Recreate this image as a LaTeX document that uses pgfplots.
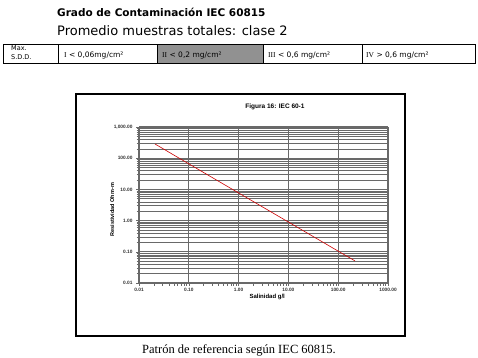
\documentclass[border=0pt]{standalone}
\usepackage{pgfplots}
\pgfplotsset{compat=1.18}
\usepackage{fontspec}
\setmainfont{Liberation Sans}
\newfontfamily\serif{Liberation Serif}
\newfontfamily\tah{DejaVu Sans}
\definecolor{gridg}{RGB}{105,105,105}
\definecolor{cellg}{RGB}{145,145,145}
\definecolor{linered}{RGB}{205,0,0}
\begin{document}
\begin{tikzpicture}
\begin{scope}[x=1pt,y=1pt]
\path[use as bounding box] (0,0) rectangle (478,357);
% header
\node[anchor=base west,inner sep=0pt,font=\fontsize{10.5}{13}\selectfont\tah\bfseries] at (57,340) {Grado de Contaminación IEC 60815};
\node[anchor=base west,inner sep=0pt,font=\fontsize{13}{16}\selectfont\tah] at (57,322) {Promedio muestras totales: clase 2};
% table
\fill[cellg] (157,294) rectangle (263,313);
\draw[line width=0.8pt] (3,294) rectangle (475,313);
\foreach \xx in {58,157,263,362} \draw[line width=0.8pt] (\xx,294) -- (\xx,313);
\node[anchor=base west,inner sep=0pt,font=\fontsize{6.5}{7}\selectfont\tah] at (11,306) {Max.};
\node[anchor=base west,inner sep=0pt,font=\fontsize{6.5}{7}\selectfont\tah] at (11,297.5) {S.D.D.};
\node[anchor=base west,inner sep=0pt,font=\fontsize{7.5}{9}\selectfont\tah] at (64,300) {{\serif I} < 0,06mg/cm²};
\node[anchor=base west,inner sep=0pt,font=\fontsize{7.5}{9}\selectfont\tah] at (162,300) {{\serif II} < 0,2 mg/cm²};
\node[anchor=base west,inner sep=0pt,font=\fontsize{7.5}{9}\selectfont\tah] at (268,300) {{\serif III} < 0,6 mg/cm²};
\node[anchor=base west,inner sep=0pt,font=\fontsize{7.5}{9}\selectfont\tah] at (366,300) {{\serif IV} > 0,6 mg/cm²};
% frame
\draw[line width=2pt] (76,21) rectangle (405,263);
% caption
\node[anchor=base,inner sep=0pt,font=\fontsize{12.5}{14}\selectfont\serif] at (239,4) {Patrón de referencia según IEC 60815.};
\end{scope}
\begin{axis}[
  at={(139pt,74pt)}, anchor=south west,
  width=249pt, height=156pt, scale only axis,
  xmode=log, ymode=log,
  xmin=0.01, xmax=1000, ymin=0.01, ymax=1000,
  xtick={0.01,0.1,1,10,100,1000},
  xticklabels={0.01,0.10,1.00,10.00,100.00,1000.00},
  ytick={0.01,0.1,1,10,100,1000},
  yticklabels={0.01,0.10,1.00,10.00,100.00,{1,000.00}},
  minor xtick={0.02,0.03,0.04,0.05,0.06,0.07,0.08,0.09,0.2,0.3,0.4,0.5,0.6,0.7,0.8,0.9,2,3,4,5,6,7,8,9,20,30,40,50,60,70,80,90,200,300,400,500,600,700,800,900},
  minor ytick={0.02,0.03,0.04,0.05,0.06,0.07,0.08,0.09,0.2,0.3,0.4,0.5,0.6,0.7,0.8,0.9,2,3,4,5,6,7,8,9,20,30,40,50,60,70,80,90,200,300,400,500,600,700,800,900},
  xmajorgrids, ymajorgrids, yminorgrids,
  major grid style={gridg,line width=1.1pt},
  minor grid style={gridg,line width=0.6pt},
  axis line style={gridg,line width=1pt},
  tick style={gridg,line width=0.6pt},
  major tick length=3pt, minor tick length=2.5pt,
  tick align=outside,
  xtick pos=bottom, ytick pos=left,
  ticklabel style={font=\fontsize{4.8}{5}\selectfont\bfseries, text=black!80},
  xticklabel style={yshift=1pt},
  xlabel={Salinidad g/l},
  ylabel={Resistividad Ohm-m},
  xlabel style={font=\fontsize{6}{7}\selectfont\bfseries, at={(axis description cs:0.515,-0.05)}, anchor=north},
  ylabel style={font=\fontsize{5.5}{6}\selectfont\bfseries, at={(axis description cs:-0.108,0.47)}, anchor=center},
  title={Figura 16: IEC 60-1},
  title style={font=\fontsize{6.5}{7}\selectfont\bfseries, at={(axis description cs:0.546,1.08)}, anchor=base},
]
\addplot[linered, line width=0.6pt] coordinates {
(0.021,285) (0.1,66) (1,7.7) (10,0.90) (100,0.105) (218,0.051)
};
\end{axis}
\end{tikzpicture}
\end{document}
